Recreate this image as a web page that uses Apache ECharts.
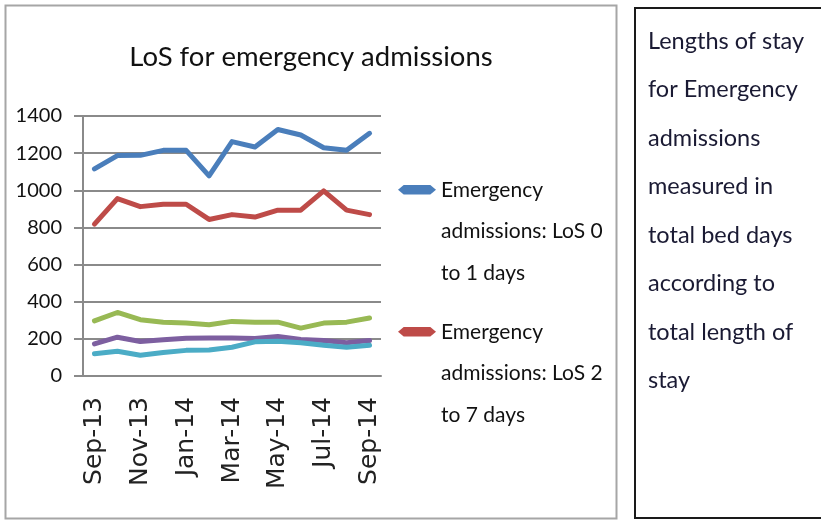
<!DOCTYPE html>
<html>
<head>
<meta charset="utf-8">
<script src="https://cdn.jsdelivr.net/npm/echarts@6/dist/echarts.min.js"></script>
<style>
  html, body { margin: 0; padding: 0; background: #fff; }
  #main { width: 821px; height: 522px; }
</style>
</head>
<body>
<div id="main"></div>
<script>
const months = ['Sep-13', 'Oct-13', 'Nov-13', 'Dec-13', 'Jan-14', 'Feb-14', 'Mar-14',
  'Apr-14', 'May-14', 'Jun-14', 'Jul-14', 'Aug-14', 'Sep-14'];
const los0to1 = [1115, 1187, 1188, 1215, 1215, 1078, 1262, 1233, 1327, 1298, 1229, 1216, 1307];
const los2to7 = [818, 955, 912, 925, 925, 843, 869, 856, 893, 893, 997, 893, 869];
const series3 = [297, 342, 303, 290, 285, 276, 294, 290, 290, 258, 285, 290, 312];
const series4 = [173, 209, 186, 195, 203, 205, 205, 202, 213, 196, 191, 179, 191];
const series5 = [120, 133, 112, 126, 138, 140, 155, 184, 187, 179, 166, 155, 166];
const yTicks = [0, 200, 400, 600, 800, 1000, 1200, 1400];

const titleText = 'LoS for emergency admissions';
const noteLines = ['Lengths of stay', 'for Emergency', 'admissions', 'measured in',
  'total bed days', 'according to', 'total length of', 'stay'];
const legendLines = {
  'Emergency admissions: LoS 0 to 1 days': ['Emergency', 'admissions: LoS 0', 'to 1 days'],
  'Emergency admissions: LoS 2 to 7 days': ['Emergency', 'admissions: LoS 2', 'to 7 days']
};

// Lato is the base of Carlito, so it is the closest thing to Calibri here
const narrow = "Lato, 'DejaVu Sans Condensed', sans-serif";
const gridColor = '#8a8a8a';
const ink = '#111';

const chart = echarts.init(document.getElementById('main'));

function line(name, data, color) {
  return {
    name: name,
    type: 'line',
    data: data,
    symbol: 'none',
    color: color,
    lineStyle: { width: 5, color: color, cap: 'round', join: 'round' },
    emphasis: { disabled: true }
  };
}

function legendAt(name, top) {
  return {
    data: [name],
    left: 398,
    top: top,
    padding: 0,
    itemWidth: 38,
    itemHeight: 10,
    icon: 'path://M0,5 L6,0 L34,0 L40,5 L34,10 L6,10 Z',
    selectedMode: false,
    formatter: n => '\n\n' + legendLines[n].join('\n'),
    textStyle: { fontFamily: narrow, fontSize: 21, lineHeight: 41.5, color: ink }
  };
}

const option = {
  animation: false,
  backgroundColor: '#fff',
  grid: { left: 83, right: 440, top: 116, bottom: 146, containLabel: false },
  legend: [
    legendAt('Emergency admissions: LoS 0 to 1 days', 86),
    legendAt('Emergency admissions: LoS 2 to 7 days', 228)
  ],
  xAxis: {
    type: 'category',
    data: months,
    boundaryGap: true,
    axisLine: { lineStyle: { color: gridColor, width: 2 } },
    axisTick: { interval: 1, length: 10, lineStyle: { color: gridColor, width: 2 } },
    axisLabel: {
      interval: 1,
      rotate: 90,
      margin: 21,
      fontFamily: "'DejaVu Sans', sans-serif",
      fontSize: 25,
      color: '#222'
    },
    splitLine: { show: false }
  },
  yAxis: {
    type: 'value',
    min: yTicks[0],
    max: yTicks[yTicks.length - 1],
    interval: yTicks[1] - yTicks[0],
    axisLine: { show: true, lineStyle: { color: gridColor, width: 2 } },
    axisTick: { show: true, length: 9, lineStyle: { color: gridColor, width: 2 } },
    axisLabel: {
      margin: 21, fontFamily: narrow, fontSize: 20, color: ink,
      formatter: v => String(v)
    },
    splitLine: { lineStyle: { color: gridColor, width: 2 } }
  },
  series: [
    line('Emergency admissions: LoS 0 to 1 days', los0to1, '#4a7ebb'),
    line('Emergency admissions: LoS 2 to 7 days', los2to7, '#be4b48'),
    line('Series 3', series3, '#98b954'),
    line('Series 4', series4, '#7d5fa0'),
    line('Series 5', series5, '#4bacc6')
  ],
  graphic: [
    {
      type: 'rect', silent: true, z: -1,
      shape: { x: 5.5, y: 5.5, width: 611, height: 513 },
      style: { fill: 'none', stroke: '#a6a6a6', lineWidth: 2 }
    },
    {
      type: 'rect', silent: true,
      shape: { x: 635, y: 8, width: 200, height: 510 },
      style: { fill: '#fff', stroke: '#1a1a1a', lineWidth: 2 }
    },
    {
      type: 'text', silent: true,
      x: 311, y: 57,
      style: {
        text: titleText, fill: ink, font: '27.5px ' + narrow,
        align: 'center', verticalAlign: 'middle'
      }
    },
    {
      type: 'text', silent: true,
      x: 648, y: 17,
      style: {
        text: noteLines.join('\n'), fill: '#1a1a33', font: '23.5px ' + narrow,
        lineHeight: 48.5, align: 'left', verticalAlign: 'top'
      }
    }
  ]
};

chart.setOption(option);
</script>
</body>
</html>
